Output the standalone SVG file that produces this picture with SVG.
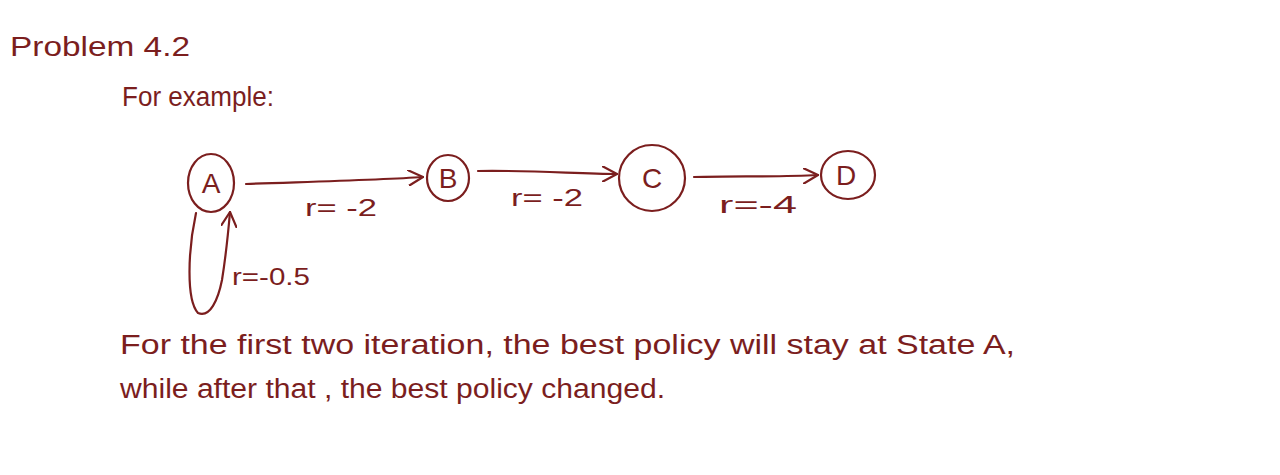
<svg xmlns="http://www.w3.org/2000/svg" width="1280" height="475" viewBox="0 0 1280 475">
<defs>
<style>
.ink{fill:none;stroke:#7b1e1e;stroke-width:2.2;stroke-linecap:round;stroke-linejoin:round}
.t{fill:#7b1e1e;font-family:"Liberation Sans","DejaVu Sans",sans-serif}
.lbl{font-size:24px}
.node{font-size:28px;text-anchor:middle}
.body{font-size:27px}
</style>
<marker id="ah" viewBox="0 0 16 16" refX="15" refY="8" markerWidth="16" markerHeight="16" markerUnits="userSpaceOnUse" orient="auto">
<path d="M0,0 L15,8 L0,16" fill="none" stroke="#7b1e1e" stroke-width="2.2" stroke-linecap="round" stroke-linejoin="round"/>
</marker>
</defs>
<rect width="1280" height="475" fill="#ffffff"/>
<text class="t body" x="10" y="56" textLength="180" lengthAdjust="spacingAndGlyphs">Problem  4.2</text>
<text class="t body" x="122" y="106" textLength="152" lengthAdjust="spacingAndGlyphs">For example:</text>
<g id="connectors">
<path class="ink" d="M246,184 C300,182 380,180 423,177" marker-end="url(#ah)"/>
<path class="ink" d="M478,171 C530,170 580,174 617,174" marker-end="url(#ah)"/>
<path class="ink" d="M694,177 C740,176 780,177 818,175" marker-end="url(#ah)"/>
<path class="ink" d="M196,213 C188,250 186,300 198,313 C210,318 218,300 222,280 C226,255 228,235 230,212" marker-end="url(#ah)"/>
<text class="t lbl" x="305" y="216" textLength="72" lengthAdjust="spacingAndGlyphs">r= -2</text>
<text class="t lbl" x="511" y="206" textLength="72" lengthAdjust="spacingAndGlyphs">r= -2</text>
<text class="t lbl" x="719" y="213" textLength="78" lengthAdjust="spacingAndGlyphs">r=-4</text>
<text class="t lbl" x="232" y="285" textLength="78" lengthAdjust="spacingAndGlyphs">r=-0.5</text>
</g>
<g id="A"><ellipse class="ink" cx="211" cy="183" rx="23" ry="29"/><text class="t node" x="211" y="193">A</text></g>
<g id="B"><ellipse class="ink" cx="448" cy="178" rx="21" ry="23"/><text class="t node" x="448" y="188">B</text></g>
<g id="C"><ellipse class="ink" cx="652" cy="178" rx="33" ry="33"/><text class="t node" x="652" y="188">C</text></g>
<g id="D"><ellipse class="ink" cx="848" cy="175" rx="27" ry="24"/><text class="t node" x="846" y="185">D</text></g>
<text class="t body" x="120" y="354" textLength="895" lengthAdjust="spacingAndGlyphs">For the first two iteration, the best policy will stay at State A,</text>
<text class="t body" x="120" y="398" textLength="545" lengthAdjust="spacingAndGlyphs">while after that , the best policy changed.</text>
</svg>
